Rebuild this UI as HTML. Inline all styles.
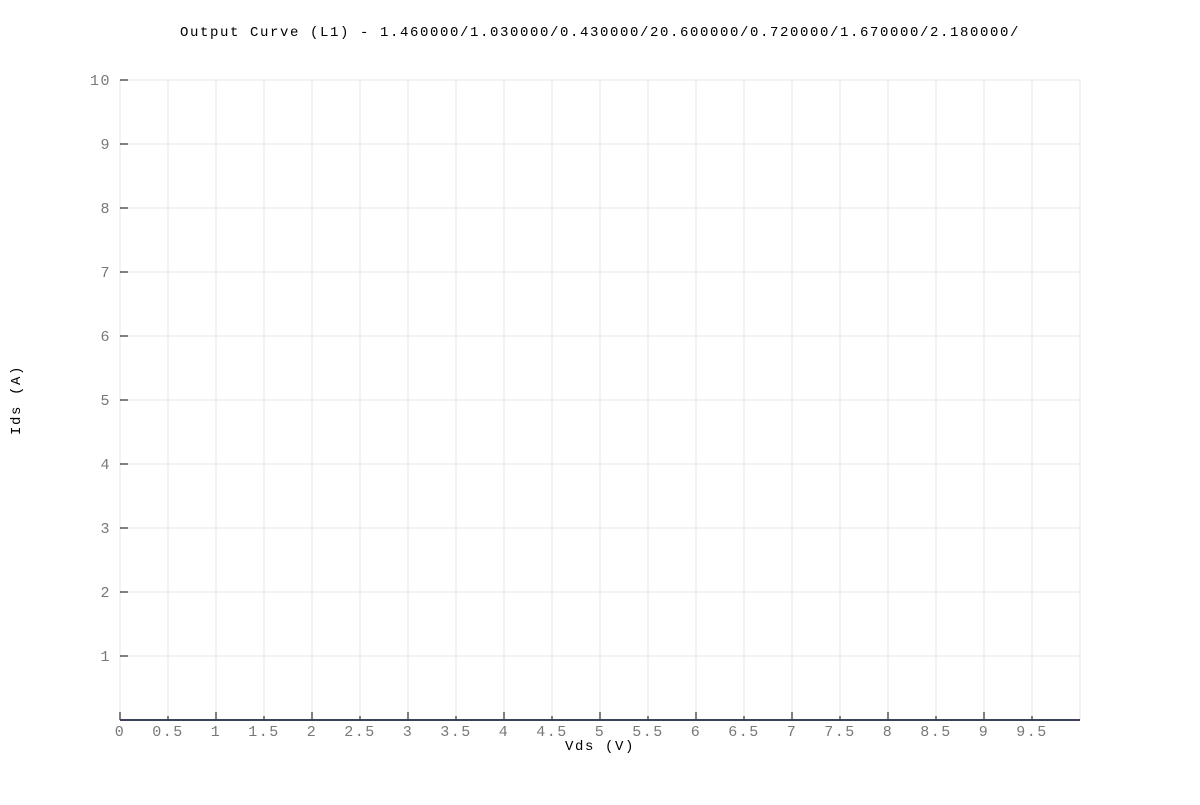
<!DOCTYPE html>
<html><head><meta charset="utf-8"><style>
body{margin:0;background:#fff;}
svg text{font-family:"Liberation Mono","DejaVu Sans Mono",monospace;}
</style></head><body>
<svg id="chart" width="1200" height="800" xmlns="http://www.w3.org/2000/svg">
<text x="600" y="36" text-anchor="middle" font-size="14" letter-spacing="1.6" fill="#000">Output Curve (L1) - 1.460000/1.030000/0.430000/20.600000/0.720000/1.670000/2.180000/</text>
<text transform="translate(20,400) rotate(-90)" text-anchor="middle" font-size="14" letter-spacing="1.6" fill="#000">Ids (A)</text>
<text x="600" y="750" text-anchor="middle" font-size="14" letter-spacing="1.6" fill="#000">Vds (V)</text>
<g id="grid"></g><g id="ticks"></g><g id="series"></g>
</svg>
<script>
const xTicks=[0,0.5,1,1.5,2,2.5,3,3.5,4,4.5,5,5.5,6,6.5,7,7.5,8,8.5,9,9.5];
const xTickLabels=["0","0.5","1","1.5","2","2.5","3","3.5","4","4.5","5","5.5","6","6.5","7","7.5","8","8.5","9","9.5"];
const yTicks=[1,2,3,4,5,6,7,8,9,10];
const yTickLabels=["1","2","3","4","5","6","7","8","9","10"];
const vds=[0,1,2,3,4,5,6,7,8,9,10];
const ids=[0,0,0,0,0,0,0,0,0,0,0];
const X0=120,X1=1080,Y0=720,Y1=80;
const sx=v=>X0+(v/10)*(X1-X0), sy=v=>Y0-(v/10)*(Y0-Y1);
const NS="http://www.w3.org/2000/svg";
function mk(tag,attrs,parent){const e=document.createElementNS(NS,tag);for(const k in attrs)e.setAttribute(k,attrs[k]);parent.appendChild(e);return e;}
const grid=document.getElementById('grid'),ticks=document.getElementById('ticks'),series=document.getElementById('series');
xTicks.concat([10]).forEach(v=>{const l=mk('line',{x1:sx(v),x2:sx(v),y1:Y1,y2:Y0,stroke:'#e6e6e6','stroke-width':1},grid);

});
[0].concat(yTicks).forEach(v=>{const l=mk('line',{x1:X0,x2:X1,y1:sy(v),y2:sy(v),stroke:'#e6e6e6','stroke-width':1},grid);

});
xTicks.forEach((v,i)=>{const major=Number.isInteger(v);
const t=mk('line',{x1:sx(v),x2:sx(v),y1:Y0,y2:Y0-(major?8:4),stroke:'#000','stroke-width':1},ticks);


const tx=mk('text',{x:sx(v),y:736,'text-anchor':'middle','font-size':15,'letter-spacing':1.5,fill:'#777'},ticks);tx.textContent=xTickLabels[i];

});
yTicks.forEach((v,i)=>{const t=mk('line',{x1:X0,x2:X0+8,y1:sy(v),y2:sy(v),stroke:'#000','stroke-width':1},ticks);


const tx=mk('text',{x:111,y:sy(v)+5,'text-anchor':'end','font-size':15,'letter-spacing':1.5,fill:'#777'},ticks);tx.textContent=yTickLabels[i];

});
const p=mk('polyline',{points:vds.map((v,i)=>sx(v)+','+sy(ids[i])).join(' '),fill:'none',stroke:'#3b4256','stroke-width':2},series);


</script>
</body></html>
